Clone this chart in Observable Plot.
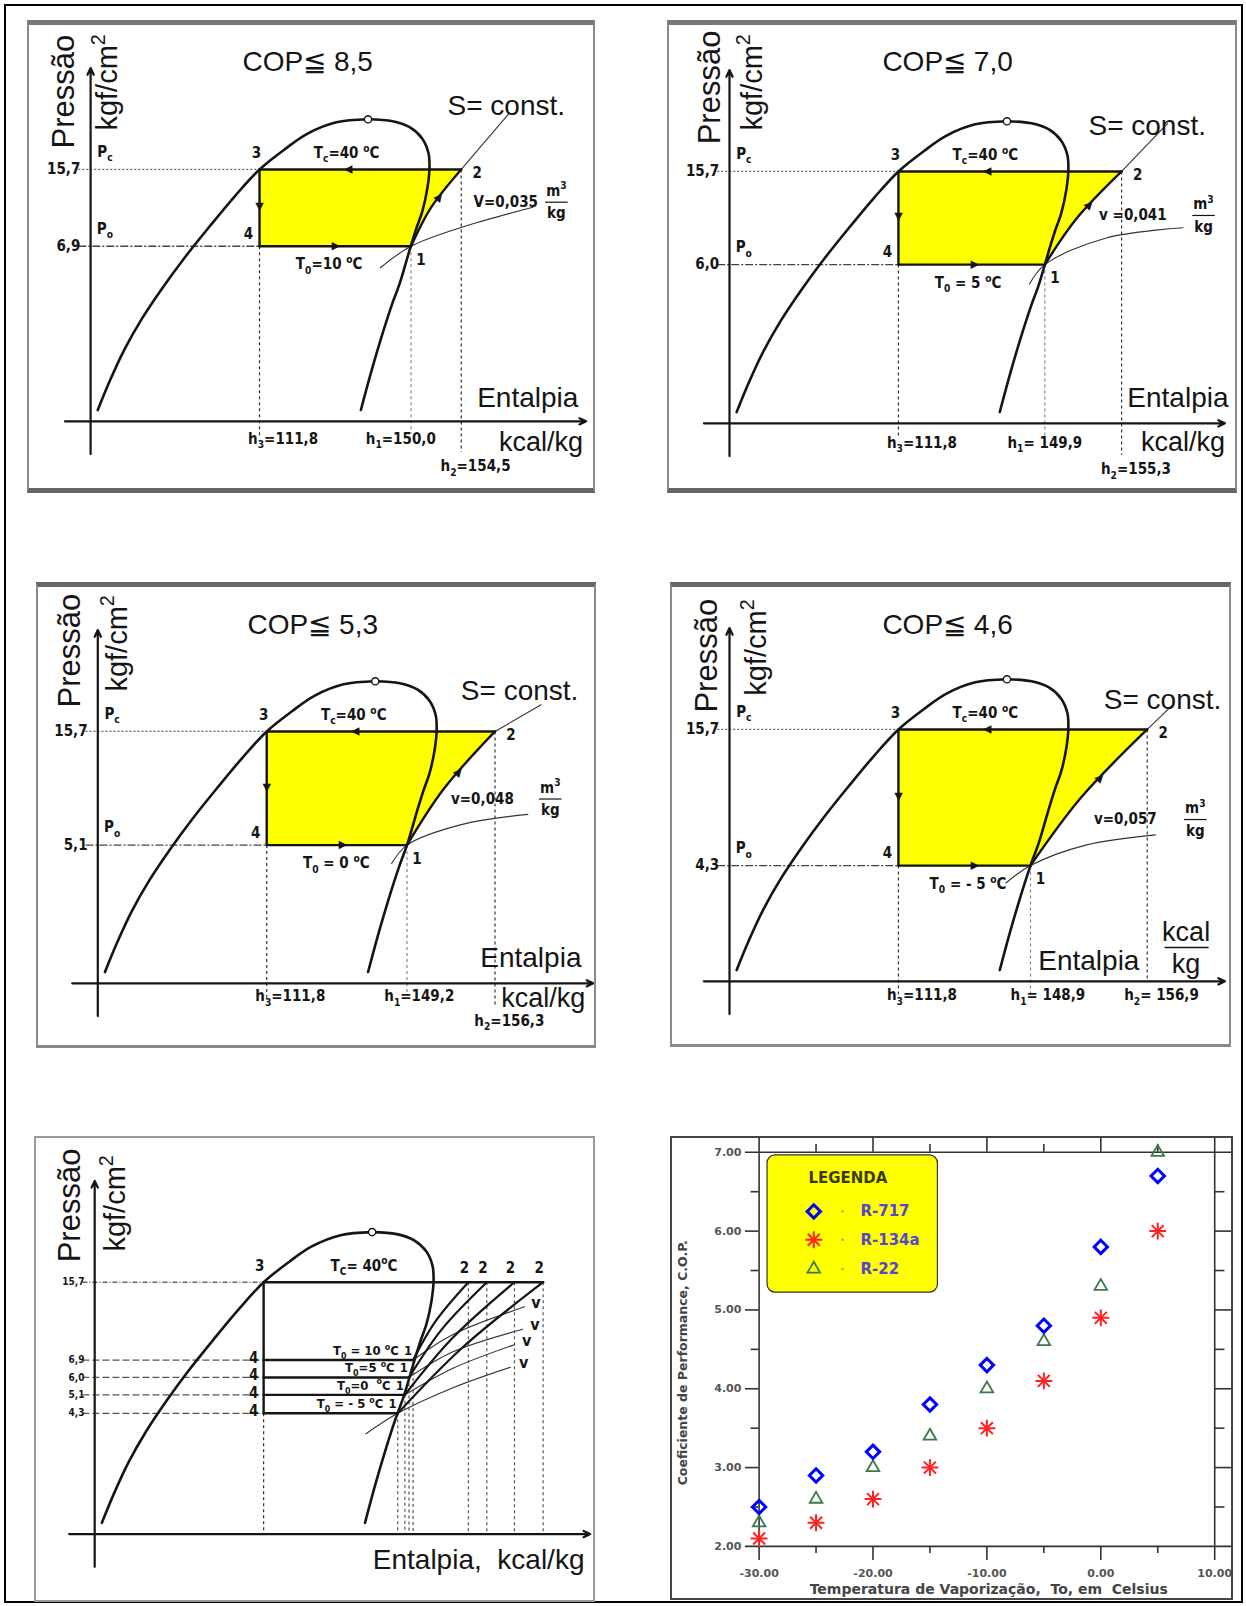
<!DOCTYPE html>
<html lang="pt">
<head>
<meta charset="utf-8">
<script src="https://cdn.jsdelivr.net/npm/d3@7"></script>
<script src="https://cdn.jsdelivr.net/npm/@observablehq/plot@0.6"></script>
<style>
html,body{margin:0;padding:0;background:#fff;}
#page{position:relative;width:1246px;height:1606px;overflow:hidden;background:#fff;}
#frame{position:absolute;left:4px;top:4px;width:1239px;height:1599px;border:2.5px solid #000;box-sizing:border-box;pointer-events:none;}
.panel{position:absolute;}
.panel svg{position:absolute;left:0;top:0;overflow:visible;}
.border{position:absolute;left:0;top:0;right:0;bottom:0;box-sizing:border-box;pointer-events:none;}
</style>
</head>
<body>
<div id="page"><div id="frame"></div></div>
<script>
// ================= DATA =================
// Saturation dome of the schematic P-h diagrams (diagram units)
const liquidLine = [[7,11],[19,40],[33,70],[50,100],[70,130],[92,160],[116,190],[141,220],[165,246],[190,266],[212,281],[240,292],[271,295]];
const vaporLine = [[271,295],[295,293],[312,287],[324,276],[330,262],[331,248],[329,228],[324,205],[318,188],[313,172],[308,155],[302,135],[294,113],[284,82],[274,48],[264,11]];
const criticalPoint = [[271,295]];
const condLevel = 246;          // level of Pc = 15,7
const liqU = 165;               // enthalpy position of states 3 and 4

// Four single-cycle diagrams
const copTitles = ["COP≦ 8,5","COP≦ 7,0","COP≦ 5,3","COP≦ 4,6"];
const pcLabel = "15,7";
const poLabels = ["6,9","6,0","5,1","4,3"];
const evapLevel = [171,155,135,113];
const state1U = [313,308,302,294];
const state2U = [362,383,388,408];
const compMid = [[332,208],[339,200],[338,190],[343,179]];
const sLineEnd = [[409,301],[428,293],[433,272],[433,270]];
const isochores = [
  [[283,150],[313,171],[364,190],[432,209]],
  [[293,136],[308,155],[368,181],[443,191]],
  [[287,117],[302,135],[355,155],[420,165]],
  [[270,96],[294,113],[348,133],[416,143]]
];
const condTempLabel = "T_{c}=40 ^{o}C";
const evapTempLabels = ["T_{0}=10 ^{o}C","T_{0} = 5 ^{o}C","T_{0} = 0 ^{o}C","T_{0} = - 5 ^{o}C"];
const h3Labels = ["h_{3}=111,8","h_{3}=111,8","h_{3}=111,8","h_{3}=111,8"];
const h1Labels = ["h_{1}=150,0","h_{1}= 149,9","h_{1}=149,2","h_{1}= 148,9"];
const h2Labels = ["h_{2}=154,5","h_{2}=155,3","h_{2}=156,3","h_{2}= 156,9"];
const vLabels = ["V=0,035","v =0,041","v=0,048","v=0,057"];

// Combined diagram
const multiLevels = [170,153,136,118];
const multiPo = ["6,9","6,0","5,1","4,3"];
const multi1U = [311,307,303,296];
const multi2U = [365,383,410,438];
const multiMid = [[333,208],[339,200],[349,191],[359,182]];
const multiIso = [
  [[311,170],[350,195],[420,222]],
  [[307,153],[350,178],[418,200]],
  [[303,136],[350,162],[410,185]],
  [[265,98],[296,118],[350,143],[406,163]]
];
const multiTemps = ["T_{0} = 10 ^{o}C","T_{0}=5 ^{o}C","T_{0}=0  ^{o}C","T_{0} = - 5 ^{o}C"];

// COP chart
const temps = [-30,-25,-20,-15,-10,-5,0,5];
const copR717 = [2.5,2.9,3.2,3.8,4.3,4.8,5.8,6.7];
const copR134a = [2.1,2.3,2.6,3.0,3.5,4.1,4.9,6.0];
const copR22 = [2.3,2.6,3.0,3.4,4.0,4.6,5.3,7.0];
const refrigerants = ["R-717","R-134a","R-22"];
const xTicks = [-30,-20,-10,0,10];
const xMinor = [-25,-15,-5,5];
const yTicks = [2,3,4,5,6,7];
const yMinor = [2.5,3.5,4.5,5.5,6.5];

// ================= HELPERS =================
const SANS = "'Liberation Sans', Arial, Helvetica, sans-serif";
const COND = "'DejaVu Sans Condensed', 'Liberation Sans Narrow', sans-serif";
const DJ = "'DejaVu Sans', sans-serif";
const INK = "#151515";
const K = 1.0238;
const page = document.getElementById("page");

const T = (u, v, s, o = {}) => Plot.text([{u, v, s}], {x: "u", y: "v", text: "s", ...o});
const L = (pts, o = {}) => Plot.line(pts, {x: d => d[0], y: d => d[1], ...o});
const seg = (a, b, c, d, o = {}) => Plot.link([{a, b, c, d}], {x1: "a", y1: "b", x2: "c", y2: "d", ...o});
const head = (u, v, ang, size = 11) => T(u, v, "▲", {rotate: 90 - ang, fontSize: size, fontFamily: DJ, fill: INK});

function richify(svg) {
  svg.querySelectorAll("text").forEach(el => {
    const s = el.textContent;
    if (!/[_^]\{/.test(s)) return;
    const fs = parseFloat(getComputedStyle(el).fontSize) || 12;
    while (el.firstChild) el.removeChild(el.firstChild);
    let cur = 0;
    for (const part of s.split(/([_^]\{[^}]*\})/)) {
      if (!part) continue;
      const m = part.match(/^([_^])\{([^}]*)\}$/);
      const ts = document.createElementNS("http://www.w3.org/2000/svg", "tspan");
      let target = 0, txt = part;
      if (m) { target = m[1] === "_" ? fs * 0.3 : -fs * 0.42; txt = m[2]; ts.setAttribute("font-size", (fs * 0.68).toFixed(1)); }
      ts.setAttribute("dy", (target - cur).toFixed(2));
      cur = target;
      ts.textContent = txt;
      el.appendChild(ts);
    }
  });
}

function addPanel(box, svg, borderCss) {
  const div = document.createElement("div");
  div.className = "panel";
  Object.assign(div.style, {left: box.left + "px", top: box.top + "px", width: box.w + "px", height: box.h + "px"});
  div.appendChild(svg);
  const b = document.createElement("div");
  b.className = "border";
  b.setAttribute("style", borderCss);
  div.appendChild(b);
  page.appendChild(div);
  richify(svg);
}

// panel boxes and axis origins (page pixels)
const phBoxes = [
  {left: 27, top: 20, w: 568, h: 473, ox: 90.1, oy: 420.8},
  {left: 667, top: 20, w: 570, h: 473, ox: 729.0, oy: 422.8},
  {left: 36, top: 582, w: 560, h: 466, ox: 97.3, oy: 982.8},
  {left: 670, top: 582, w: 561, h: 465, ox: 729.0, oy: 980.8},
  {left: 34, top: 1136, w: 561, h: 466, ox: 94.2, oy: 1533.6}
];
const phLayout = [
  {title: [212, 351], s: [406, 308], ent: [427, 23], kcal: [440, -21], press: [-26, 322], kgf: [17, 331], h1dx: -10, hv: -17, h2v: -44, vl: [374, 214], fr: 455},
  {title: [213, 353], s: [408, 290], ent: [438, 25], kcal: [443, -19], press: [-19, 328], kgf: [23, 333], h1dx: 0, hv: -19, h2v: -45, vl: [361, 203], fr: 463},
  {title: [210, 350], s: [412, 285], ent: [423, 25], kcal: [435, -15], press: [-27, 325], kgf: [19, 332], h1dx: 12, hv: -13, h2v: -37, vl: [345, 180], fr: 442},
  {title: [213, 348], s: [423, 275], ent: [351, 20], kcal: null, press: [-22, 318], kgf: [27, 326], h1dx: 17, hv: -14, h2v: -14, vl: [356, 158], fr: 455}
];

function phPlot(box, marks) {
  const ox = box.ox - box.left, oy = box.oy - box.top;
  return Plot.plot({
    width: box.w, height: box.h, margin: 0,
    x: {axis: null, domain: [-ox / K, (box.w - ox) / K]},
    y: {axis: null, domain: [-(box.h - oy) / K, oy / K]},
    style: {background: "transparent", overflow: "visible"},
    marks
  });
}

const axisOpts = {stroke: INK, strokeWidth: 2.2, headLength: 5, headAngle: 50};
const axes = () => [
  Plot.arrow([{a: 0, b: -32, c: 0, d: 345}], {x1: "a", y1: "b", x2: "c", y2: "d", ...axisOpts}),
  Plot.arrow([{a: -25, b: 0, c: 484, d: 0}], {x1: "a", y1: "b", x2: "c", y2: "d", ...axisOpts})
];
const thick = {stroke: INK, strokeWidth: 2.4};
const dome = {stroke: INK, strokeWidth: 2.6, curve: "catmull-rom"};
const thin = {stroke: "#333", strokeWidth: 1.1, curve: "catmull-rom"};
const dash = {stroke: "#333", strokeWidth: 1.2, strokeDasharray: "3,3"};
const lab = {fontFamily: COND, fontWeight: "bold", fontSize: 15, fill: INK};
const big = {fontFamily: SANS, fill: INK};

function cyclePanel(i) {
  const box = phBoxes[i], lay = phLayout[i];
  const v4 = evapLevel[i], u1 = state1U[i], u2 = state2U[i];
  const p3 = [liqU, condLevel], p4 = [liqU, v4], p1 = [u1, v4], p2 = [u2, condLevel], pm = compMid[i];
  const ang = Math.atan2(p2[1] - pm[1], p2[0] - pm[0]) * 180 / Math.PI;
  const ca = [pm[0] + 0.3 * (p2[0] - pm[0]), pm[1] + 0.3 * (p2[1] - pm[1])];
  const marks = [
    L([p3, p2, pm, p1, p4], {fill: "#ffff00", stroke: "none"}),
    seg(-12, condLevel, liqU, condLevel, {stroke: "#666", strokeWidth: 1.3, strokeDasharray: "2,2"}),
    seg(-12, v4, liqU, v4, {stroke: "#444", strokeWidth: 1.3, strokeDasharray: "8,2,2,2"}),
    seg(liqU, v4, liqU, -14, dash),
    seg(u1, v4, u1, -12, {...dash, stroke: "#888"}),
    seg(u2, condLevel, u2, lay.h2v + 14, dash),
    L(liquidLine, dome), L(vaporLine, dome),
    L([p2, sLineEnd[i]], thin),
    L(isochores[i], thin),
    L([p4, p3, p2], thick), L([p1, p4], thick), L([p1, pm, p2], {...thick, curve: "catmull-rom"}),
    Plot.dot(criticalPoint, {x: d => d[0], y: d => d[1], r: 3.6, fill: "#fff", stroke: INK, strokeWidth: 1.4}),
    ...axes(),
    head(251, condLevel, 180), head(240, v4, 0), head(liqU, (condLevel + v4) / 2, -90), head(ca[0], ca[1], ang),
    T(...lay.title, copTitles[i], {...big, fontSize: 28}),
    T(...lay.s, "S= const.", {...big, fontSize: 28}),
    T(...lay.ent, "Entalpia", {...big, fontSize: 28}),
    T(...lay.press, "Pressão", {...big, fontSize: 31, rotate: -90}),
    T(...lay.kgf, "kgf/cm^{2}", {...big, fontSize: 29, rotate: -90}),
    T(-10, condLevel, pcLabel, {...lab, textAnchor: "end"}),
    T(-10, v4, poLabels[i], {...lab, textAnchor: "end"}),
    T(14, condLevel + 17, "P_{c}", {...lab}),
    T(14, v4 + 17, "P_{o}", {...lab}),
    T(liqU, condLevel, "3", {...lab, dx: -3, dy: -16}),
    T(liqU, v4, "4", {...lab, dx: -11, dy: -12}),
    T(u1, v4, "1", {...lab, dx: 10, dy: 14}),
    T(u2, condLevel, "2", {...lab, dx: 16, dy: 4}),
    T(250, 262, condTempLabel, {...lab}),
    T(233, v4 - 18, evapTempLabels[i], {...lab}),
    T(liqU + 23, lay.hv, h3Labels[i], {...lab}),
    T(u1 + lay.h1dx, lay.hv, h1Labels[i], {...lab}),
    T(u2 + 14, lay.h2v, h2Labels[i], {...lab}),
    T(lay.vl[0], lay.vl[1], vLabels[i], {...lab, textAnchor: "start"}),
    T(lay.fr, lay.vl[1] + 11, "m^{3}", {...lab}),
    T(lay.fr, lay.vl[1] - 11, "kg", {...lab}),
    seg(lay.fr - 11, lay.vl[1], lay.fr + 11, lay.vl[1], {stroke: INK, strokeWidth: 1.2})
  ];
  if (lay.kcal) marks.push(T(...lay.kcal, "kcal/kg", {...big, fontSize: 27}));
  else marks.push(
    T(446, 48, "kcal", {...big, fontSize: 27}),
    T(446, 17, "kg", {...big, fontSize: 27}),
    seg(425, 33, 468, 33, {stroke: INK, strokeWidth: 1.5})
  );
  return phPlot(box, marks);
}

function multiPanel() {
  const box = phBoxes[4];
  const top = condLevel, lowest = multiLevels[multiLevels.length - 1];
  const small = {...lab, fontSize: 13};
  const marks = [
    seg(-12, top, liqU, top, {stroke: "#666", strokeWidth: 1.3, strokeDasharray: "5,2,1,2"}),
    ...multiLevels.map(lv => seg(-12, lv, liqU, lv, {stroke: "#555", strokeWidth: 1.3, strokeDasharray: "7,3"})),
    seg(liqU, lowest, liqU, 0, dash),
    ...multi1U.map((u, k) => seg(u, multiLevels[k], u, 0, {...dash, stroke: "#555"})),
    ...multi2U.map(u => seg(u, top, u, 0, {...dash, stroke: "#555"})),
    L(liquidLine, dome), L(vaporLine, dome),
    ...multiIso.map(pts => L(pts, thin)),
    L([[liqU, top], [multi2U[multi2U.length - 1], top]], thick),
    L([[liqU, top], [liqU, lowest]], thick),
    ...multiLevels.map((lv, k) => L([[liqU, lv], [multi1U[k], lv]], thick)),
    ...multiLevels.map((lv, k) => L([[multi1U[k], lv], multiMid[k], [multi2U[k], top]], {...thick, strokeWidth: 2.2, curve: "catmull-rom"})),
    Plot.dot(criticalPoint, {x: d => d[0], y: d => d[1], r: 3.6, fill: "#fff", stroke: INK, strokeWidth: 1.4}),
    ...axes(),
    T(-24, 321, "Pressão", {...big, fontSize: 31, rotate: -90}),
    T(21, 323, "kgf/cm^{2}", {...big, fontSize: 29, rotate: -90}),
    T(-10, top, pcLabel, {...lab, fontSize: 10, textAnchor: "end"}),
    ...multiLevels.map((lv, k) => T(-10, lv, multiPo[k], {...lab, fontSize: 10, textAnchor: "end"})),
    ...multiLevels.map(lv => T(liqU, lv, "4", {...lab, dx: -10, dy: -2})),
    T(liqU, top, "3", {...lab, dx: -4, dy: -16}),
    ...multi2U.map(u => T(u, top, "2", {...lab, dx: -4, dy: -14})),
    ...multiLevels.map((lv, k) => T(multi1U[k] - 14, lv + 9, multiTemps[k], {...small, textAnchor: "end"})),
    ...multiLevels.map((lv, k) => T(multi1U[k] - 5, lv + 9, "1", {...small})),
    T(263, 262, "T_{C}= 40^{o}C", {...lab}),
    ...[[431, 226], [430, 204], [422, 189], [419, 167]].map(([u, v]) => T(u, v, "v", {...lab, fontSize: 16})),
    T(375, -25, "Entalpia,\u00a0 kcal/kg", {...big, fontSize: 28})
  ];
  return phPlot(box, marks);
}

function copPanel() {
  const rows = temps.flatMap((t, k) => [
    {t, cop: copR717[k], ref: refrigerants[0]},
    {t, cop: copR134a[k], ref: refrigerants[1]},
    {t, cop: copR22[k], ref: refrigerants[2]}
  ]);
  const by = r => rows.filter(d => d.ref === r);
  const xl = -31.2, xr = 11.6, yb = 1.82, yt = 7.19;
  const frameS = {stroke: "#333", strokeWidth: 1.6};
  const tick = {fontFamily: DJ, fontWeight: "bold", fontSize: 11, fill: "#555"};
  const legendY = [6.25, 5.89, 5.52];
  const legText = {fontFamily: DJ, fontWeight: "bold", fontSize: 15, fill: "#5548cc", textAnchor: "start"};
  return Plot.plot({
    width: 563, height: 464,
    marginLeft: 88.6, marginRight: 18.8, marginTop: 15.8, marginBottom: 54.1,
    x: {axis: null, domain: [-30, 10]},
    y: {axis: null, domain: [2, 7]},
    style: {background: "transparent", overflow: "visible"},
    marks: [
      Plot.ruleY([2, 7], {x1: () => xl, x2: () => xr, ...frameS}),
      Plot.ruleX([-30, 10], {y1: () => yb, y2: () => yt, ...frameS}),
      Plot.ruleX([-20, -10, 0], {y1: () => 7, y2: () => yt, ...frameS}),
      Plot.ruleX(xMinor, {y1: () => 7, y2: () => 7.1, ...frameS}),
      Plot.ruleX([-20, -10, 0], {y1: () => yb, y2: () => 2, ...frameS}),
      Plot.ruleX(xMinor, {y1: () => 1.91, y2: () => 2, ...frameS}),
      Plot.ruleY([3, 4, 5, 6], {x1: () => xl, x2: () => -30, ...frameS}),
      Plot.ruleY(yMinor, {x1: () => -30.7, x2: () => -30, ...frameS}),
      Plot.ruleY([3, 4, 5, 6], {x1: () => 10, x2: () => xr, ...frameS}),
      Plot.ruleY(yMinor, {x1: () => 10, x2: () => 10.9, ...frameS}),
      Plot.text(yTicks, {x: () => xl, y: d => d, text: d => d.toFixed(2), dx: -4, textAnchor: "end", ...tick}),
      Plot.text(xTicks, {x: d => d, y: () => 2, text: d => d.toFixed(2), dy: 27, ...tick}),
      Plot.text(["Temperatura de Vaporização,\u00a0 To, em\u00a0 Celsius"], {x: () => -9.84, y: () => 1.454, text: d => d, fontFamily: DJ, fontWeight: "bold", fontSize: 14, fill: "#444"}),
      Plot.text(["Coeficiente de Performance, C.O.P."], {x: () => -36.64, y: () => 4.33, text: d => d, rotate: -90, fontFamily: DJ, fontWeight: "bold", fontSize: 12.5, fill: "#444"}),
      Plot.dot(by("R-22"), {x: "t", y: "cop", symbol: "triangle2", r: 6, stroke: "#3a7a4a", strokeWidth: 1.8}),
      Plot.dot(by("R-134a"), {x: "t", y: "cop", symbol: "plus", r: 5.5, stroke: "#ff2020", strokeWidth: 2}),
      Plot.dot(by("R-134a"), {x: "t", y: "cop", symbol: "times", r: 5.5, stroke: "#ff2020", strokeWidth: 2}),
      Plot.dot(by("R-717"), {x: "t", y: "cop", symbol: "diamond2", r: 6, stroke: "#0000ff", strokeWidth: 3}),
      // legend
      Plot.rect([0], {x1: () => -29.26, x2: () => -14.3, y1: () => 5.22, y2: () => 6.96, rx: 8, fill: "#ffff00", stroke: "#333", strokeWidth: 1.2}),
      Plot.text(["LEGENDA"], {x: () => -22.2, y: () => 6.67, text: d => d, fontFamily: DJ, fontWeight: "bold", fontSize: 15, fill: "#3a3a00"}),
      Plot.dot([legendY[0]], {x: () => -25.2, y: d => d, symbol: "diamond2", r: 6, stroke: "#0000ff", strokeWidth: 3}),
      Plot.dot([legendY[1]], {x: () => -25.2, y: d => d, symbol: "plus", r: 5.5, stroke: "#ff2020", strokeWidth: 2}),
      Plot.dot([legendY[1]], {x: () => -25.2, y: d => d, symbol: "times", r: 5.5, stroke: "#ff2020", strokeWidth: 2}),
      Plot.dot([legendY[2]], {x: () => -25.2, y: d => d, symbol: "triangle2", r: 6, stroke: "#3a7a4a", strokeWidth: 1.8}),
      Plot.dot(legendY, {x: () => -22.67, y: d => d, r: 1.2, fill: "#999", stroke: "none"}),
      Plot.text(legendY, {x: () => -21.1, y: d => d, text: (d, k) => refrigerants[k], ...legText})
    ]
  });
}

// ================= RENDER =================
const thickTB = "border-left:2px solid #8a8a8a;border-right:2px solid #8a8a8a;";
addPanel(phBoxes[0], cyclePanel(0), thickTB + "border-top:5px solid #777;border-bottom:5px solid #666;");
addPanel(phBoxes[1], cyclePanel(1), thickTB + "border-top:5px solid #777;border-bottom:5px solid #666;");
addPanel(phBoxes[2], cyclePanel(2), thickTB + "border-top:5px solid #666;border-bottom:3px solid #888;");
addPanel(phBoxes[3], cyclePanel(3), thickTB + "border-top:5px solid #666;border-bottom:3px solid #888;");
addPanel(phBoxes[4], multiPanel(), "border:2px solid #999;");
addPanel({left: 670, top: 1136, w: 563, h: 464}, copPanel(), "border:2px solid #444;");
</script>
</body>
</html>
